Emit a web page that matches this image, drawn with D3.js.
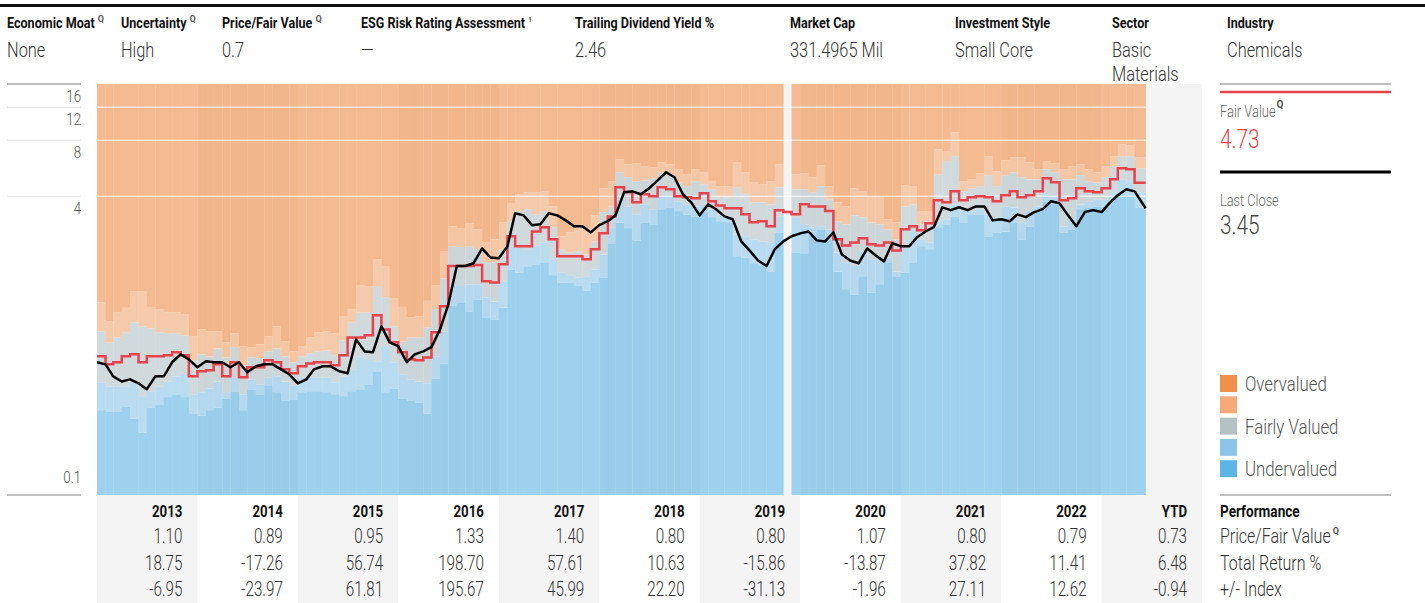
<!DOCTYPE html>
<html>
<head>
<meta charset="utf-8">
<script src="https://cdnjs.cloudflare.com/ajax/libs/d3/7.8.5/d3.min.js"></script>
<style>
  body { margin: 0; background: #fff; }
  svg { display: block; font-family: Roboto, 'Liberation Sans', sans-serif; }
</style>
</head>
<body>
<div id="chart"></div>
<script>
'use strict';

////////// Data //////////
const headerLabels = ['Economic Moat', 'Uncertainty', 'Price/Fair Value', 'ESG Risk Rating Assessment',
	'Trailing Dividend Yield %', 'Market Cap', 'Investment Style', 'Sector', 'Industry'];
const headerMarks = ['Q', 'Q', 'Q', '1', '', '', '', '', ''];
const headerValues = ['None', 'High', '0.7', '—', '2.46', '331.4965 Mil', 'Small Core', 'Basic|Materials', 'Chemicals'];

const yearLabels = ['2013', '2014', '2015', '2016', '2017', '2018', '2019', '2020', '2021', '2022', 'YTD'];
const priceFairValueRow = ['1.10', '0.89', '0.95', '1.33', '1.40', '0.80', '0.80', '1.07', '0.80', '0.79', '0.73'];
const totalReturnRow = ['18.75', '-17.26', '56.74', '198.70', '57.61', '10.63', '-15.86', '-13.87', '37.82', '11.41', '6.48'];
const plusMinusIndexRow = ['-6.95', '-23.97', '61.81', '195.67', '45.99', '22.20', '-31.13', '-1.96', '27.11', '12.62', '-0.94'];
const rowLabels = ['Performance', 'Price/Fair Value', 'Total Return %', '+/- Index'];

const yTicks = [16, 12, 8, 4, 0.1];
const legendLabels = ['Overvalued', '', 'Fairly Valued', '', 'Undervalued'];

const lastClose = 3.45;
const lastFairValue = 4.73;
const lastDate = new Date(2023, 5, 10);

// monthly, Jan 2013 .. May 2023
const closePrice = [
	0.515, 0.502, 0.433, 0.406, 0.417, 0.397, 0.369, 0.433, 0.433, 0.515, 0.568, 0.534,
	0.484, 0.521, 0.515, 0.515, 0.484, 0.515, 0.455, 0.490, 0.502, 0.502, 0.472, 0.444,
	0.397, 0.417, 0.472, 0.490, 0.490, 0.461, 0.450, 0.683, 0.589, 0.582, 0.802, 0.659,
	0.628, 0.515, 0.568, 0.589, 0.621, 0.773, 1.05, 1.69, 1.69, 1.75, 2.10, 1.88,
	1.86, 2.16, 3.24, 3.16, 2.80, 2.83, 3.24, 3.16, 2.97, 2.76, 2.76, 2.56,
	2.80, 2.94, 3.16, 4.20, 4.25, 4.10, 4.41, 4.87, 5.38, 5.06, 4.10, 3.71,
	3.16, 3.62, 3.41, 3.12, 3.01, 2.29, 2.05, 1.81, 1.69, 2.08, 2.29, 2.44,
	2.53, 2.59, 2.32, 2.29, 2.56, 1.95, 1.81, 1.75, 2.10, 1.93, 1.79, 2.24,
	2.16, 2.16, 2.41, 2.59, 2.73, 3.49, 3.37, 3.49, 3.37, 3.53, 3.53, 2.97,
	3.01, 2.94, 3.20, 3.09, 3.29, 3.41, 3.76, 3.67, 3.16, 2.76, 3.29, 3.37,
	3.29, 3.71, 4.05, 4.36, 4.25
];
const fairValue = [
	0.554, 0.502, 0.515, 0.554, 0.568, 0.515, 0.554, 0.554, 0.561, 0.582, 0.561, 0.433,
	0.461, 0.467, 0.502, 0.433, 0.515, 0.428, 0.484, 0.484, 0.528, 0.515, 0.472, 0.450,
	0.490, 0.508, 0.515, 0.515, 0.496, 0.561, 0.700, 0.700, 0.718, 0.920, 0.773, 0.659,
	0.582, 0.534, 0.528, 0.547, 0.745, 1.03, 1.69, 1.69, 1.69, 1.71, 1.40, 1.38,
	1.73, 2.44, 2.16, 2.16, 2.59, 2.73, 2.35, 1.91, 1.91, 1.91, 1.84, 2.08,
	2.53, 3.12, 4.47, 4.20, 3.71, 4.10, 4.00, 4.47, 4.36, 4.00, 3.95, 3.90,
	4.15, 3.76, 3.57, 3.45, 3.45, 3.20, 2.90, 2.94, 2.76, 3.37, 3.29, 3.20,
	3.62, 3.53, 3.53, 3.33, 2.35, 2.18, 2.26, 2.38, 2.21, 2.18, 2.26, 2.05,
	2.66, 2.76, 2.63, 2.87, 3.81, 3.71, 4.25, 3.81, 3.95, 4.00, 3.95, 3.76,
	4.05, 4.25, 3.95, 4.05, 4.25, 4.99, 4.75, 3.81, 3.90, 4.41, 4.25, 4.20,
	4.41, 4.93, 5.65, 5.58, 4.73
];
// band tops (undervalued / 4 star / fairly valued / 2 star); above the last is overvalued
const undervaluedTop = [
	0.285, 0.281, 0.281, 0.299, 0.257, 0.216, 0.295, 0.306, 0.335, 0.347, 0.335, 0.274,
	0.267, 0.285, 0.295, 0.330, 0.360, 0.285, 0.369, 0.347, 0.388, 0.356, 0.322, 0.326,
	0.356, 0.360, 0.360, 0.356, 0.347, 0.339, 0.360, 0.369, 0.392, 0.461, 0.356, 0.373,
	0.330, 0.322, 0.314, 0.274, 0.422, 0.508, 1.04, 1.08, 0.966, 1.12, 0.898, 0.875,
	1.01, 1.62, 1.56, 1.67, 1.71, 1.77, 1.51, 1.38, 1.37, 1.32, 1.25, 1.38,
	1.47, 2.24, 2.90, 2.70, 2.32, 2.90, 2.83, 3.41, 3.49, 3.33, 3.20, 3.12,
	3.29, 3.09, 2.94, 2.90, 1.91, 1.88, 1.75, 1.69, 1.58, 2.56, null, 2.00,
	1.98, 2.47, 2.66, 2.35, 1.58, 1.27, 1.19, 1.49, 1.22, 1.35, 1.77, 1.49,
	1.56, 1.77, 2.16, 2.08, 2.73, 2.83, 3.12, 2.90, 3.20, 3.20, 2.44, 2.56,
	2.59, 2.90, 2.35, 2.76, 3.33, 3.76, 3.62, 2.56, 2.66, 3.41, 3.49, 3.53,
	3.53, 3.95, 4.10, 4.00, 3.49
];
const fourStarTop = [
	0.402, 0.383, 0.383, 0.383, 0.402, 0.339, 0.360, 0.383, 0.406, 0.433, 0.450, 0.347,
	0.356, 0.373, 0.406, 0.356, 0.428, 0.347, 0.417, 0.392, 0.428, 0.433, 0.406, 0.388,
	0.428, 0.428, 0.428, 0.428, 0.402, 0.433, 0.472, 0.554, 0.534, 0.521, 0.628, 0.515,
	0.444, 0.417, 0.406, 0.397, 0.554, 0.755, 1.35, 1.32, 1.35, 1.35, 1.15, 1.09,
	1.40, 2.14, 2.16, 2.08, 2.18, 2.26, 1.84, 1.56, 1.51, 1.47, 1.49, 1.62,
	1.95, 2.73, 3.85, 3.53, 3.20, 3.62, 3.41, 4.00, 4.00, 3.76, 3.62, 3.53,
	3.62, 3.41, 3.16, 3.09, 2.50, 2.44, 2.35, 2.29, 2.26, 3.12, null, 3.09,
	2.83, 2.73, 2.76, 2.66, 2.00, 1.77, 1.69, 2.03, 1.84, 1.84, 1.88, 1.58,
	2.12, 2.66, 2.35, 2.26, 2.94, 3.01, 3.62, 3.33, 3.33, 3.41, 3.20, 3.09,
	3.53, 3.49, 2.90, 3.29, 3.53, 4.10, 4.00, 2.76, 3.01, 3.62, 3.76, 3.85,
	3.85, 4.20, 4.93, 4.82, 4.20
];
const fairlyValuedTop = [
	0.755, 0.659, 0.700, 0.745, 0.843, 0.802, 0.783, 0.745, 0.736, 0.736, 0.718, 0.528,
	0.568, 0.554, 0.611, 0.547, 0.621, 0.496, 0.547, 0.541, 0.589, 0.611, 0.554, 0.515,
	0.554, 0.575, 0.589, 0.596, 0.561, 0.675, 0.843, 0.954, 0.954, 1.32, 1.15, 0.802,
	0.667, 0.700, 0.700, 0.792, 0.990, 1.45, 2.16, 2.14, 2.16, 2.08, 1.77, 1.77,
	2.08, 2.94, 3.33, 3.41, 3.20, 3.33, 2.73, 2.08, 2.00, 2.03, 1.95, 2.29,
	3.29, 3.53, 5.38, 5.06, 4.82, 4.87, 4.99, 5.38, 5.25, 4.75, 4.53, 4.82,
	4.64, 4.36, 4.00, 3.95, 4.47, 4.10, 3.71, 3.71, 3.62, 4.47, null, 4.36,
	4.36, 4.20, 4.53, 3.85, 2.94, 2.83, 3.16, 3.09, 2.90, 2.83, 2.66, 2.35,
	3.53, 3.62, 2.83, 2.94, 5.25, 6.17, 6.56, 4.25, 4.41, 4.53, 5.19, 4.53,
	5.19, 5.38, 5.06, 4.93, 4.93, 5.58, 5.38, 4.93, 4.93, 5.19, 4.82, 4.75,
	5.06, 5.80, 6.56, 6.56, 5.65
];
const twoStarTop = [
	1.08, 0.854, 0.954, 1.01, 1.24, 1.24, 1.02, 0.990, 0.954, 0.954, 0.931, 0.710,
	0.773, 0.755, 0.755, 0.659, 0.736, 0.628, 0.621, 0.643, 0.710, 0.802, 0.667, 0.589,
	0.628, 0.700, 0.745, 0.755, 0.736, 0.909, 0.990, 1.33, 1.32, 1.84, 1.69, 1.13,
	1.02, 0.898, 0.909, 1.10, 1.33, 2.03, 2.76, 2.70, 2.87, 2.66, 2.27, 2.35,
	2.90, 3.67, 4.10, 4.20, 4.20, 4.25, 3.53, 2.44, 2.56, 2.73, 2.70, 3.16,
	4.41, 4.82, 6.32, 5.94, 6.01, 5.80, 5.72, 6.09, 5.94, 5.58, 5.25, 5.58,
	5.38, 4.82, 4.53, 4.53, 6.09, 5.38, 4.75, 4.64, 4.82, 5.94, null, 5.25,
	5.31, 5.06, 5.87, 4.53, 3.71, 3.53, 4.41, 4.25, 3.95, 3.95, 3.01, 2.90,
	4.58, 4.53, 3.33, 3.33, 7.15, 6.94, 8.82, 4.82, 4.93, 5.31, 6.56, 5.45,
	6.24, 6.48, 6.48, 6.09, 5.58, 6.17, 6.01, 5.58, 5.80, 5.94, 5.58, 5.38,
	5.80, 6.56, 7.60, 7.51, 6.48
];

////////// Hard Coded Defs //////////
const width = 1425;
const height = 603;
const plotTop = 84;
const plotBottom = 495;
const panelX = 1220;
const panelRight = 1391;
const legendColors = ['#f0904b', '#f4a976', '#b3c2c3', '#8dc4ea', '#5db5e6'];
// band fills, bottom to top: undervalued, 4 star, fairly, 2 star, overvalued
const bandColorsLight = ['#9ed1ed', '#badcf1', '#d0d9dc', '#f6cbab', '#f4bb92'];
const bandColorsDark = ['#99cdea', '#b5d8ee', '#ccd5d8', '#f4c6a4', '#f1b68b'];
const redColor = '#e8434c';
const colBg = '#f4f4f4';

const svg = d3.select('#chart').append('svg')
	.attr('width', width)
	.attr('height', height);

const x = d3.scaleTime()
	.domain([new Date(2013, 0, 1), new Date(2024, 0, 1)])
	.range([97, 1202]);
const y = d3.scaleLog()
	.domain([0.1, 16])
	.range([plotBottom, plotTop]);

// text with a horizontal squeeze, the original face is a condensed one
const addText = (parent, tx, ty, str, o) => {
	const sx = o.sx || 0.78;
	const g = parent.append('g').attr('transform', `translate(${tx}, ${ty}) scale(${sx}, 1)`);
	const t = g.append('text')
		.text(str)
		.attr('font-size', o.size)
		.attr('font-weight', o.weight || 300)
		.attr('fill', o.color || '#333')
		.attr('text-anchor', o.anchor || 'start');
	return t.node().getComputedTextLength() * sx;
};

////////////////////////////////////////////////////////////////
	// Header
////////////////////////////////////////////////////////////////
const headerX = [7, 121, 222, 361, 575, 790, 955, 1112, 1227];
svg.append('rect').attr('x', 0).attr('y', 4).attr('width', width).attr('height', 3).attr('fill', '#111');

headerLabels.forEach((label, i) => {
	const w = addText(svg, headerX[i], 28, label, { size: 14, weight: 700, color: '#111', sx: 0.9 });
	if (headerMarks[i]) {
		addText(svg, headerX[i] + w + 3, 22, headerMarks[i], { size: headerMarks[i] === 'Q' ? 9 : 7, weight: 700, color: '#555', sx: 1 });
	}
	headerValues[i].split('|').forEach((line, j) => {
		addText(svg, headerX[i], 57 + j * 24, line, { size: 20, color: '#333', sx: 0.82 });
	});
});

////////////////////////////////////////////////////////////////
	// Column backgrounds + bands
////////////////////////////////////////////////////////////////
const yearStart = k => x(new Date(2013 + k, 0, 1));
yearLabels.forEach((label, k) => {
	if (k % 2 === 0) {
		svg.append('rect')
			.attr('x', yearStart(k))
			.attr('y', plotTop)
			.attr('width', yearStart(k + 1) - yearStart(k))
			.attr('height', height - plotTop)
			.attr('fill', colBg);
	}
});

const months = closePrice.map((d, i) => new Date(2013, i, 1));
const monthEnd = i => (i === months.length - 1 ? lastDate : months[i + 1]);
const bandTops = [undervaluedTop, fourStarTop, fairlyValuedTop, twoStarTop];

const bandGroup = svg.append('g').attr('class', 'bands');
months.forEach((m, i) => {
	if (undervaluedTop[i] === null) return;
	const colors = m.getFullYear() % 2 === 1 ? bandColorsLight : bandColorsDark;
	const edges = [0.1].concat(bandTops.map(arr => arr[i])).concat([16]);
	const x0 = x(m);
	const x1 = x(monthEnd(i));
	for (let b = 0; b < 5; b++) {
		bandGroup.append('rect')
			.attr('x', x0)
			.attr('width', x1 - x0 + 0.3)
			.attr('y', y(edges[b + 1]))
			.attr('height', y(edges[b]) - y(edges[b + 1]))
			.attr('fill', colors[b]);
	}
});

// white grid lines over the bands
svg.append('g').selectAll('line')
	.data(yTicks.slice(1, 4))
	.enter().append('line')
		.attr('x1', x(months[0]))
		.attr('x2', x(lastDate))
		.attr('y1', d => y(d))
		.attr('y2', d => y(d))
		.attr('stroke', '#fff')
		.attr('stroke-opacity', 0.6)
		.attr('stroke-width', 1.5);

////////////////////////////////////////////////////////////////
	// Left axis
////////////////////////////////////////////////////////////////
const axisG = svg.append('g').attr('class', 'yAxis');
yTicks.forEach(t => {
	const ty = y(t);
	const strong = t === 16 || t === 0.1;
	axisG.append('line')
		.attr('x1', 7).attr('x2', 81)
		.attr('y1', ty).attr('y2', ty)
		.attr('stroke', strong ? '#aaa' : '#e6e6e6')
		.attr('stroke-width', strong ? 1.5 : 1.2);
	addText(axisG, 81, t === 0.1 ? ty - 12 : ty + 18, String(t), { size: 17, color: '#555', anchor: 'end', sx: 0.78 });
});

////////////////////////////////////////////////////////////////
	// Fair value + price lines
////////////////////////////////////////////////////////////////
const fvPoints = months.map((m, i) => [m, fairValue[i]]).concat([[lastDate, lastFairValue]]);
const pricePoints = months.map((m, i) => [m, closePrice[i]]).concat([[lastDate, lastClose]]);

svg.append('path')
	.datum(fvPoints)
	.attr('fill', 'none')
	.attr('stroke', redColor)
	.attr('stroke-width', 2.5)
	.attr('d', d3.line().x(d => x(d[0])).y(d => y(d[1])).curve(d3.curveStepAfter));

svg.append('path')
	.datum(pricePoints)
	.attr('fill', 'none')
	.attr('stroke', '#000')
	.attr('stroke-width', 2.5)
	.attr('stroke-linejoin', 'round')
	.attr('d', d3.line().x(d => x(d[0])).y(d => y(d[1])));

////////////////////////////////////////////////////////////////
	// Right panel
////////////////////////////////////////////////////////////////
const panel = svg.append('g').attr('class', 'panel');
const hLine = (py, color, w) => panel.append('line')
	.attr('x1', panelX).attr('x2', panelRight)
	.attr('y1', py).attr('y2', py)
	.attr('stroke', color).attr('stroke-width', w);

hLine(84, '#aaa', 1.5);
hLine(92, redColor, 2.5);
let w = addText(panel, panelX, 117, 'Fair Value', { size: 17, color: '#666', sx: 0.76 });
addText(panel, panelX + w + 1, 108, 'Q', { size: 10, weight: 700, color: '#555', sx: 1 });
addText(panel, panelX, 148, lastFairValue.toFixed(2), { size: 26, color: redColor, sx: 0.8 });
hLine(172, '#000', 3);
addText(panel, panelX, 206, 'Last Close', { size: 16, color: '#666', sx: 0.8 });
addText(panel, panelX, 234, lastClose.toFixed(2), { size: 26, color: '#444', sx: 0.8 });

legendLabels.forEach((label, i) => {
	const ly = 375 + i * 21.3;
	panel.append('rect')
		.attr('x', panelX).attr('y', ly)
		.attr('width', 17).attr('height', 17)
		.attr('fill', legendColors[i]);
	if (label) addText(panel, 1245, ly + 16, label, { size: 21, color: '#555', sx: 0.8 });
});
hLine(495, '#aaa', 1.5);

////////////////////////////////////////////////////////////////
	// Performance table
////////////////////////////////////////////////////////////////
const rowBaselines = [517, 543, 570, 596];
const tableRows = [priceFairValueRow, totalReturnRow, plusMinusIndexRow];
yearLabels.forEach((label, k) => {
	const right = yearStart(k + 1) - 15;
	addText(svg, right, rowBaselines[0], label, { size: 17, weight: 700, color: '#111', anchor: 'end', sx: 0.78 });
	tableRows.forEach((row, r) => {
		addText(svg, right, rowBaselines[r + 1], row[k], { size: 20, color: '#333', anchor: 'end', sx: 0.76 });
	});
});

rowLabels.forEach((label, r) => {
	const lw = addText(panel, panelX, rowBaselines[r], label,
		r === 0 ? { size: 17, weight: 700, color: '#111', sx: 0.8 } : { size: 20, color: '#333', sx: 0.8 });
	if (r === 1) addText(panel, panelX + lw + 2, rowBaselines[r] - 9, 'Q', { size: 9, weight: 700, color: '#555', sx: 1 });
});
</script>
</body>
</html>
